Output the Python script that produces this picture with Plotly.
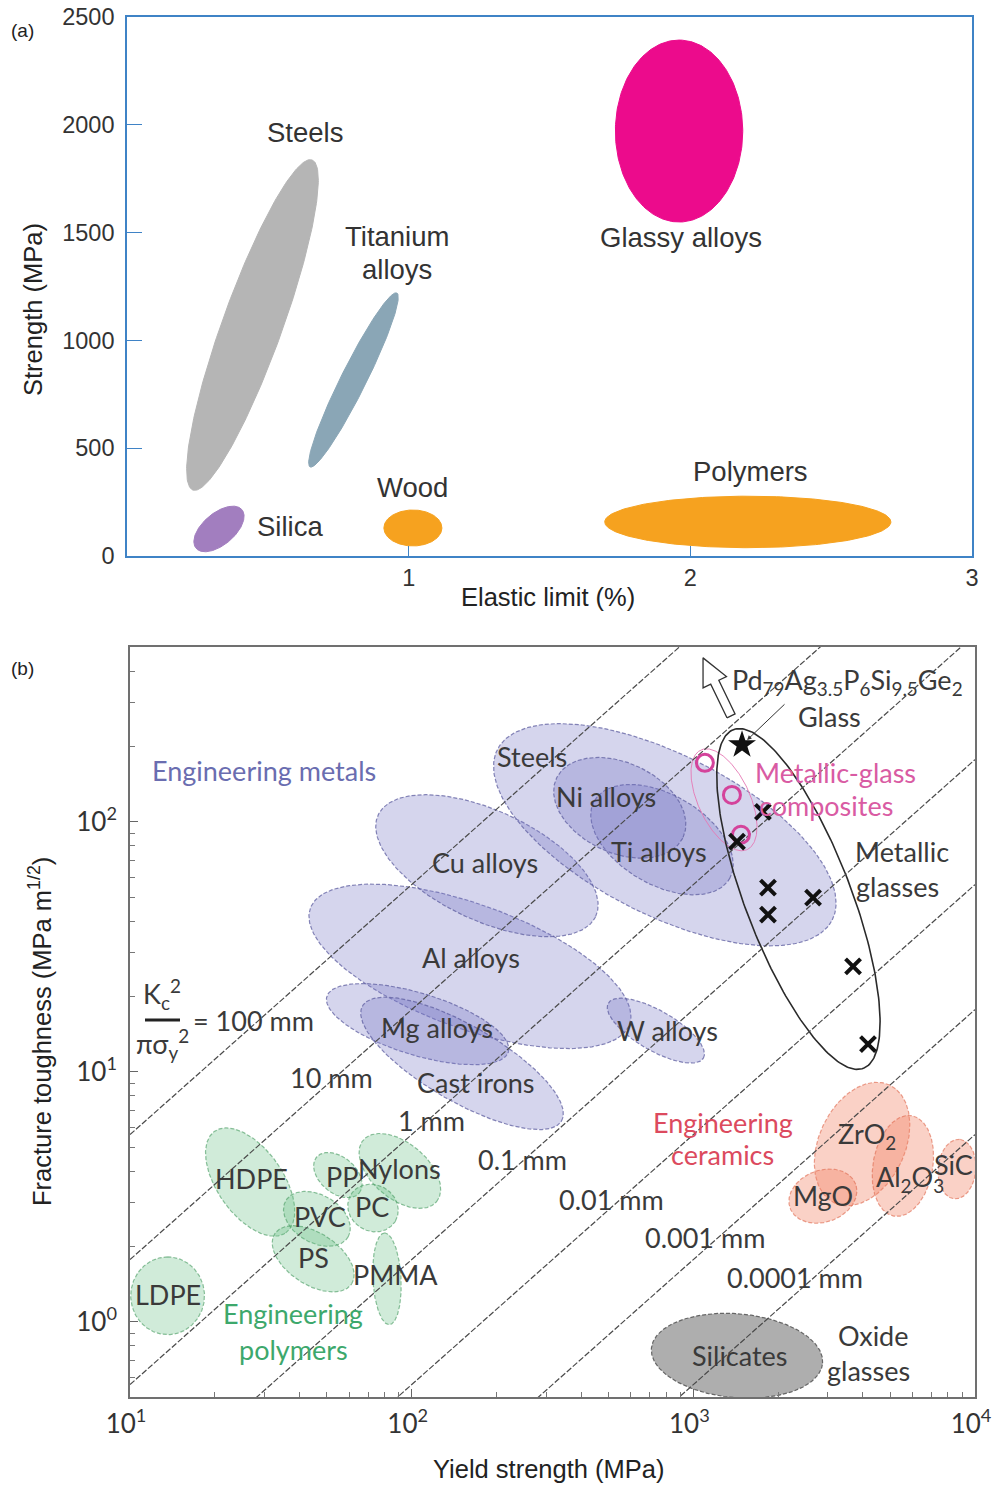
import numpy as np
import plotly.graph_objects as go

FIG_W, FIG_H = 993, 1486

# ------------------------------------------------------------------
# Panel (a): strength vs elastic limit, one ellipse per material class
# each ellipse: the two ends of its long axis (elastic limit %, MPa) + width ratio
# ------------------------------------------------------------------
a_names = ["Steels", "Titanium alloys", "Glassy alloys", "Silica", "Wood", "Polymers"]
a_end1_x = [0.234, 0.650, 1.96, 0.245, 0.912, 1.696]
a_end1_y = [306, 413, 1549, 36, 130, 158]
a_end2_x = [0.657, 0.958, 1.96, 0.408, 1.118, 2.712]
a_end2_y = [1837, 1220, 2393, 215, 130, 158]
a_width_ratio = [0.17, 0.13, 0.70, 0.53, 0.62, 0.18]
a_colors = ["#b5b5b5", "#8aa6b6", "#ec0b8c", "#a27ebf", "#f6a21f", "#f6a21f"]

a_xticks = [1, 2, 3]
a_yticks = [0, 500, 1000, 1500, 2000, 2500]

# ------------------------------------------------------------------
# Panel (b): fracture toughness vs yield strength (log-log)
# each ellipse: centre (MPa, MPa m^1/2), half-axes in decades, tilt in degrees
# ------------------------------------------------------------------
metal_names = ["Al alloys", "Cu alloys", "Mg alloys", "Cast irons", "W alloys",
               "Steels", "Ti alloys", "Ni alloys"]
metal_sigma = [161, 185, 105, 151, 736, 792, 774, 548]
metal_K = [26.4, 66.7, 15.5, 10.8, 14.6, 88.7, 84.8, 113.7]
metal_a = [0.603, 0.426, 0.337, 0.408, 0.195, 0.667, 0.277, 0.248]
metal_b = [0.220, 0.195, 0.110, 0.135, 0.071, 0.284, 0.160, 0.160]
metal_tilt = [-20, -25, -17, -30, -30, -27, -30, -25]

poly_names = ["HDPE", "PP", "Nylons", "PVC", "PC", "PS", "PMMA", "LDPE"]
poly_sigma = [26.7, 54.7, 90.8, 46.1, 72.9, 44.7, 81.7, 13.6]
poly_K = [3.62, 3.86, 4.01, 2.58, 2.85, 1.785, 1.485, 1.27]
poly_a = [0.220, 0.099, 0.170, 0.128, 0.092, 0.163, 0.163, 0.138]
poly_b = [0.117, 0.064, 0.099, 0.085, 0.082, 0.092, 0.050, 0.131]
poly_tilt = [-55, -40, -40, -30, -30, -33, 93, 90]

cer_names = ["ZrO2", "MgO", "Al2O3", "SiC"]
cer_sigma = [3972, 2884, 5546, 8630]
cer_K = [5.14, 3.18, 4.20, 4.08]
cer_a = [0.231, 0.124, 0.181, 0.106]
cer_b = [0.153, 0.092, 0.106, 0.067]
cer_tilt = [65, 20, 80, 85]

silicate_ell = dict(sigma=1429, K=0.731, a=0.305, b=0.149, tilt=-5)
composite_ell = dict(sigma=1285, K=122.4, a=0.195, b=0.092, tilt=-65)
mglass_ell = dict(sigma=2361, K=49.1, a=0.644, b=0.188, tilt=-69)

# metallic glasses (crosses), Pd-based glass (star), composites (circles)
mg_sigma = [1766, 1429, 1841, 1841, 2661, 3690, 4170]
mg_K = [109.6, 83.2, 54.5, 42.5, 49.7, 26.4, 12.9]
pd_sigma = [1489]
pd_K = [203]
comp_sigma = [1099, 1371, 1476]
comp_K = [172, 128, 88.7]

# process-zone size lines  Kc^2 / (pi sigma_y^2) = L
zone_mm = [100, 10, 1, 0.1, 0.01, 0.001, 0.0001]
zone_labels = ["= 100 mm", "10 mm", "1 mm", "0.1 mm", "0.01 mm", "0.001 mm", "0.0001 mm"]

b_xticks = [10, 100, 1000, 10000]
b_xticktext = ["10<sup>1</sup>", "10<sup>2</sup>", "10<sup>3</sup>", "10<sup>4</sup>"]
b_yticks = [1, 10, 100]
b_yticktext = ["10<sup>0</sup>", "10<sup>1</sup>", "10<sup>2</sup>"]

# ------------------------------------------------------------------
# layout geometry
# ------------------------------------------------------------------
def px_x(p):
    return p / FIG_W


def px_y(p):
    return 1 - p / FIG_H


DOM_AX = [px_x(127), px_x(972)]
DOM_AY = [px_y(556), px_y(17)]
DOM_BX = [px_x(130), px_x(975)]
DOM_BY = [px_y(1397), px_y(647)]

A_XR = [0, 3]
A_YR = [0, 2500]
B_XR = [1, 4]
B_YR = [np.log10(0.5), np.log10(500)]

A_SX = (DOM_AX[1] - DOM_AX[0]) * FIG_W / (A_XR[1] - A_XR[0])
A_SY = (DOM_AY[1] - DOM_AY[0]) * FIG_H / (A_YR[1] - A_YR[0])
B_SX = (DOM_BX[1] - DOM_BX[0]) * FIG_W / (B_XR[1] - B_XR[0])
B_SY = (DOM_BY[1] - DOM_BY[0]) * FIG_H / (B_YR[1] - B_YR[0])


def ellipse_pts(xc, yc, a, b, theta_deg, n=240):
    t = np.linspace(0, 2 * np.pi, n)
    th = np.radians(theta_deg)
    X = xc + a * np.cos(t) * np.cos(th) - b * np.sin(t) * np.sin(th)
    Y = yc + a * np.cos(t) * np.sin(th) + b * np.sin(t) * np.cos(th)
    return X, Y


def ellipse_a(x1, y1, x2, y2, ratio):
    X1, Y1, X2, Y2 = x1 * A_SX, y1 * A_SY, x2 * A_SX, y2 * A_SY
    a = 0.5 * np.hypot(X2 - X1, Y2 - Y1)
    th = np.degrees(np.arctan2(Y2 - Y1, X2 - X1))
    X, Y = ellipse_pts((X1 + X2) / 2, (Y1 + Y2) / 2, a, a * ratio, th)
    return X / A_SX, Y / A_SY


def ellipse_b(sigma, K, a_dec, b_dec, tilt):
    X, Y = ellipse_pts(np.log10(sigma) * B_SX, np.log10(K) * B_SY,
                       a_dec * B_SX, b_dec * B_SX, tilt)
    return 10 ** (X / B_SX), 10 ** (Y / B_SY)


fig = go.Figure()

# ---- panel (a) ellipses ----
for name, x1, y1, x2, y2, r, c in zip(a_names, a_end1_x, a_end1_y, a_end2_x,
                                       a_end2_y, a_width_ratio, a_colors):
    ex, ey = ellipse_a(x1, y1, x2, y2, r)
    fig.add_trace(go.Scatter(x=ex, y=ey, mode="lines", fill="toself",
                             fillcolor=c, line=dict(color=c, width=1),
                             name=name, hoverinfo="name",
                             xaxis="x", yaxis="y"))


# ---- panel (b) ellipses ----
def add_region(names, sig, K, a, b, tilt, fill, edge, dash="4px,2px", width=1.2):
    for n_, s_, k_, a_, b_, t_ in zip(names, sig, K, a, b, tilt):
        ex, ey = ellipse_b(s_, k_, a_, b_, t_)
        fig.add_trace(go.Scatter(x=ex, y=ey, mode="lines",
                                 fill="toself" if fill else None,
                                 fillcolor=fill,
                                 line=dict(color=edge, width=width, dash=dash),
                                 name=n_, hoverinfo="name",
                                 xaxis="x2", yaxis="y2"))


add_region(metal_names, metal_sigma, metal_K, metal_a, metal_b, metal_tilt,
           "rgba(115,115,196,0.30)", "rgba(95,95,160,0.75)")
add_region(poly_names, poly_sigma, poly_K, poly_a, poly_b, poly_tilt,
           "rgba(100,190,130,0.30)", "rgba(80,160,105,0.65)")
add_region(cer_names, cer_sigma, cer_K, cer_a, cer_b, cer_tilt,
           "rgba(240,128,98,0.36)", "rgba(225,110,85,0.65)")
add_region(["Silicates"], [silicate_ell["sigma"]], [silicate_ell["K"]],
           [silicate_ell["a"]], [silicate_ell["b"]], [silicate_ell["tilt"]],
           "rgba(160,160,160,0.85)", "rgba(90,90,90,0.9)")
add_region(["Metallic-glass composites"], [composite_ell["sigma"]], [composite_ell["K"]],
           [composite_ell["a"]], [composite_ell["b"]], [composite_ell["tilt"]],
           None, "rgba(230,120,180,0.9)", dash="solid", width=1)
add_region(["Metallic glasses"], [mglass_ell["sigma"]], [mglass_ell["K"]],
           [mglass_ell["a"]], [mglass_ell["b"]], [mglass_ell["tilt"]],
           None, "#2a2a2a", dash="solid", width=1.6)

# ---- zone-size lines ----
sig_line = np.array([10.0, 10000.0])
for L in zone_mm:
    fig.add_trace(go.Scatter(x=sig_line, y=sig_line * np.sqrt(np.pi * L / 1000.0),
                             mode="lines", line=dict(color="#4a4a4a", width=1.2, dash="6px,2px"),
                             hoverinfo="skip", xaxis="x2", yaxis="y2"))

# ---- open arrow pointing off-chart, anchored on the Pd-based glass point ----
sx0 = np.log10(pd_sigma[0]) * B_SX
sy0 = np.log10(pd_K[0]) * B_SY
tail = np.array([sx0 - 11, sy0 + 29])
d = np.array([-28.0, 58.0])
L_ar = np.hypot(*d)
d = d / L_ar
nrm = np.array([d[1], -d[0]])
neck = tail + d * (L_ar - 27)
poly = [tail - nrm * 4.5, neck - nrm * 4.5, neck - nrm * 13, tail + d * L_ar,
        neck + nrm * 13, neck + nrm * 4.5, tail + nrm * 4.5, tail - nrm * 4.5]
poly = np.array(poly)
fig.add_trace(go.Scatter(x=10 ** (poly[:, 0] / B_SX), y=10 ** (poly[:, 1] / B_SY),
                         mode="lines", fill="toself", fillcolor="white",
                         line=dict(color="#333333", width=1.3),
                         hoverinfo="skip", xaxis="x2", yaxis="y2"))

# ---- markers ----
fig.add_trace(go.Scatter(x=comp_sigma, y=comp_K, mode="markers",
                         marker=dict(symbol="circle-open", size=17, color="#d4439b",
                                     line=dict(width=3, color="#d4439b")),
                         name="Metallic-glass composites", xaxis="x2", yaxis="y2"))
fig.add_trace(go.Scatter(x=mg_sigma, y=mg_K, mode="markers",
                         marker=dict(symbol="x-thin", size=15,
                                     line=dict(width=4, color="#111111")),
                         name="Metallic glasses", xaxis="x2", yaxis="y2"))
fig.add_trace(go.Scatter(x=pd_sigma, y=pd_K, mode="markers",
                         marker=dict(symbol="star", size=21, color="#111111"),
                         name="Pd79Ag3.5P6Si9.5Ge2 glass", xaxis="x2", yaxis="y2"))

# ------------------------------------------------------------------
# text
# ------------------------------------------------------------------
ann = []
A_FONT = "Liberation Sans, Arial, sans-serif"
B_FONT = "Lato, Open Sans, sans-serif"
DARK = "#333333"


def a_label(text, x, y, size=27.5):
    ann.append(dict(text=text, x=x, y=y, xref="x", yref="y", showarrow=False,
                    font=dict(family=A_FONT, size=size, color=DARK)))


def b_label(text, x, y, color="#3a3a3a", size=27):
    ann.append(dict(text=text, x=x, y=y, xref="x2", yref="y2", showarrow=False,
                    font=dict(family=B_FONT, size=size, color=color)))


def paper_text(text, px, py, size, angle=0, family=A_FONT, color="#222222"):
    ann.append(dict(text=text, x=px_x(px), y=px_y(py), xref="paper", yref="paper",
                    showarrow=False, textangle=angle, xanchor="center", yanchor="middle",
                    font=dict(family=family, size=size, color=color)))


a_label("Steels", 0.632, 1962)
a_label("Titanium", 0.958, 1480)
a_label("alloys", 0.958, 1327)
a_label("Glassy alloys", 1.967, 1475)
a_label("Silica", 0.579, 139)
a_label("Wood", 1.015, 320)
a_label("Polymers", 2.212, 394)

METAL_C = "#6a6db0"
POLY_C = "#3da86c"
CER_C = "#dc4a5e"
PINK_C = "#d95ba3"

b_label("Engineering metals", 1.476, 2.204, METAL_C)
b_label("Steels", 2.427, 2.259)
b_label("Ni alloys", 2.690, 2.100)
b_label("Ti alloys", 2.878, 1.880)
b_label("Cu alloys", 2.260, 1.836)
b_label("Al alloys", 2.211, 1.457)
b_label("Mg alloys", 2.090, 1.178)
b_label("Cast irons", 2.228, 0.958)
b_label("W alloys", 2.910, 1.166)
b_label("Metallic-glass", 3.506, 2.196, PINK_C)
b_label("composites", 3.471, 2.064, PINK_C)
b_label("Metallic", 3.741, 1.880)
b_label("glasses", 3.726, 1.741)
b_label("Pd<sub>79</sub>Ag<sub>3.5</sub>P<sub>6</sub>Si<sub>9.5</sub>Ge<sub>2</sub>", 3.549, 2.559)
b_label("Glass", 3.485, 2.419)
b_label("Engineering", 3.105, 0.798, CER_C)
b_label("ceramics", 3.105, 0.667, CER_C)
b_label("ZrO<sub>2</sub>", 3.616, 0.743)
b_label("Al<sub>2</sub>O<sub>3</sub>", 3.770, 0.571)
b_label("SiC", 3.925, 0.630)
b_label("MgO", 3.460, 0.503)
b_label("Silicates", 3.165, -0.136)
b_label("Oxide", 3.638, -0.056)
b_label("glasses", 3.623, -0.196)
b_label("HDPE", 1.433, 0.571)
b_label("PP", 1.753, 0.579)
b_label("Nylons", 1.958, 0.611)
b_label("PVC", 1.674, 0.419)
b_label("PC", 1.859, 0.459)
b_label("PS", 1.650, 0.255)
b_label("PMMA", 1.941, 0.188)
b_label("LDPE", 1.135, 0.108)
b_label("Engineering", 1.579, 0.032, POLY_C)
b_label("polymers", 1.579, -0.112, POLY_C)

zone_lab_x = [1.437, 1.717, 2.069, 2.392, 2.708, 3.041, 3.361]
zone_lab_y = [1.206, 0.978, 0.806, 0.647, 0.487, 0.335, 0.176]
for t_, x_, y_ in zip(zone_labels, zone_lab_x, zone_lab_y):
    b_label(t_, x_, y_)

# fraction Kc^2 / (pi sigma_y^2)
b_label("K<sub>c</sub><sup>2</sup>", 1.114, 1.309)
b_label("πσ<sub>y</sub><sup>2</sup>", 1.114, 1.110)

# leader from the glass label to its point
ann.append(dict(text="", x=np.log10(pd_sigma[0]), y=np.log10(pd_K[0]), xref="x2", yref="y2",
                ax=44, ay=-42, showarrow=True, arrowhead=2, arrowsize=0.9, arrowwidth=1,
                arrowcolor="#333333", standoff=7))

# axis titles and panel tags
paper_text("Strength (MPa)", 33, 310, 25.5, angle=-90)
paper_text("Elastic limit (%)", 548, 597, 25.5)
paper_text("Fracture toughness (MPa m<sup>1/2</sup>)", 40, 1032, 25.5, angle=-90)
paper_text("Yield strength (MPa)", 548, 1469, 25.5)
paper_text("(a)", 22, 30, 19)
paper_text("(b)", 22, 668, 19)

shapes = [dict(type="line", xref="paper", yref="paper",
               x0=px_x(145), x1=px_x(180), y0=px_y(1020), y1=px_y(1020),
               line=dict(color="#222222", width=3))]

AX_BLUE = "#3f83c6"
minor_x = [v * 10 ** e for e in (1, 2, 3) for v in range(2, 10)]
minor_y = [0.6, 0.7, 0.8, 0.9] + [v * 10 ** e for e in (0, 1) for v in range(2, 10)] + [200, 300, 400]

fig.update_layout(
    width=FIG_W, height=FIG_H,
    margin=dict(l=0, r=0, t=0, b=0, autoexpand=False),
    paper_bgcolor="white", plot_bgcolor="white",
    showlegend=False,
    annotations=ann, shapes=shapes,
    xaxis=dict(domain=DOM_AX, range=A_XR, anchor="y", tickvals=a_xticks,
               ticks="inside", ticklen=10, tickcolor=AX_BLUE, tickwidth=1,
               showline=True, linecolor=AX_BLUE, linewidth=1.6, mirror=True,
               showgrid=False, zeroline=False, ticklabelstandoff=0, automargin=False,
               ticklabeloverflow="allow",
               tickfont=dict(family=A_FONT, size=23.5, color=DARK)),
    yaxis=dict(domain=DOM_AY, range=A_YR, anchor="x", tickvals=a_yticks,
               ticks="inside", ticklen=15, tickcolor=AX_BLUE, tickwidth=1,
               showline=True, linecolor=AX_BLUE, linewidth=1.6, mirror=True,
               showgrid=False, zeroline=False, ticklabelstandoff=6, automargin=False,
               ticklabeloverflow="allow",
               tickfont=dict(family=A_FONT, size=23.5, color=DARK)),
    xaxis2=dict(domain=DOM_BX, range=B_XR, type="log", anchor="y2",
                tickvals=b_xticks, ticktext=b_xticktext,
                ticks="inside", ticklen=8, tickcolor="#666666",
                minor=dict(tickvals=minor_x, ticks="inside", ticklen=5, tickcolor="#777777"),
                showline=True, linecolor="#707070", linewidth=1.6, mirror=True,
                showgrid=False, zeroline=False, ticklabelstandoff=3, ticklabelshift=-4,
                automargin=False, ticklabeloverflow="allow",
                tickfont=dict(family=B_FONT, size=26, color=DARK)),
    yaxis2=dict(domain=DOM_BY, range=B_YR, type="log", anchor="x2",
                tickvals=b_yticks, ticktext=b_yticktext,
                ticks="inside", ticklen=8, tickcolor="#666666",
                minor=dict(tickvals=minor_y, ticks="inside", ticklen=5, tickcolor="#777777"),
                showline=True, linecolor="#707070", linewidth=1.6, mirror=True,
                showgrid=False, zeroline=False, ticklabelstandoff=6, automargin=False,
                ticklabeloverflow="allow",
                tickfont=dict(family=B_FONT, size=26, color=DARK)),
)

fig.write_html("out.html")
